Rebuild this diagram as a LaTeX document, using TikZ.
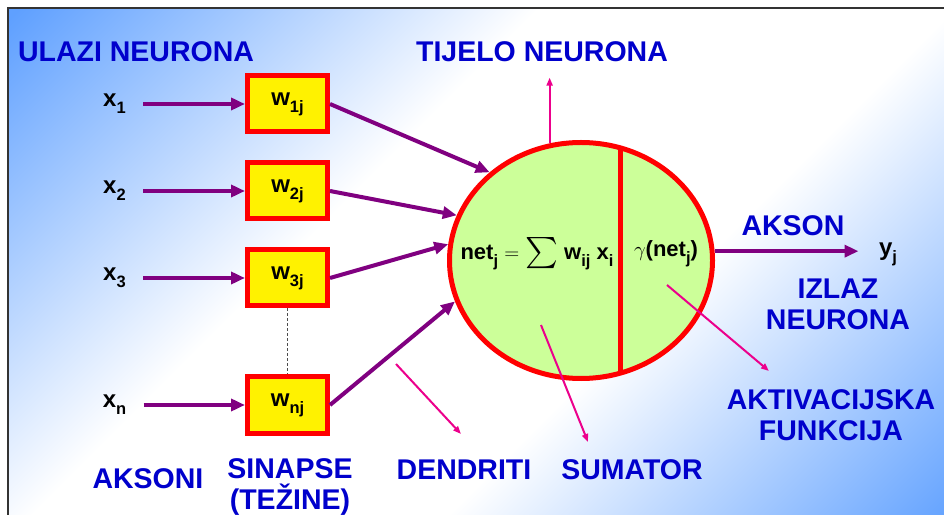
\documentclass[tikz,border=0pt]{standalone}
\usepackage{amsmath}
\usepackage{graphicx}
\usepackage{fontspec}
\setmainfont{Liberation Sans}
\usetikzlibrary{shapes.geometric, positioning, arrows.meta,
calc
}
\definecolor{headblue}{RGB}{0,0,204}
\definecolor{bgblue}{RGB}{95,160,255}
\definecolor{bodygreen}{RGB}{204,255,153}
\definecolor{sigpurple}{RGB}{128,0,128}
\pgfdeclareverticalshading{bgshade}{100bp}{color(0bp)=(bgblue); color(15bp)=(bgblue); color(40bp)=(white); color(60bp)=(white); color(85bp)=(bgblue); color(100bp)=(bgblue)}
\newcommand{\low}[1]{\raisebox{-7pt}{\fontsize{16.5}{17}\selectfont #1}}

\begin{document}
\begin{tikzpicture}[x=1pt, y=1pt, node distance=87pt,
    heading/.style={text=headblue, font=\fontsize{28.5}{31}\selectfont\bfseries, align=center},
    sym/.style={font=\fontsize{24}{26}\selectfont\bfseries},
    weight/.style={sym, draw=red, line width=5pt, fill=yellow, minimum width=80pt, minimum height=56pt, inner sep=0pt},
    body/.style={ellipse, draw=red, line width=5pt, fill=bodygreen, minimum width=263pt, minimum height=236pt, inner sep=0pt},
    formula/.style={font=\fontsize{22}{24}\selectfont\bfseries},
    signal/.style={draw=sigpurple, line width=4pt, -{Triangle[length=14pt,width=12pt]}},
    pointer/.style={magenta, line width=2pt, -{Triangle[length=8pt,width=6pt]}}]
    \useasboundingbox (0,0) rectangle (944,514);
    \fill[shading=bgshade, shading angle=45] (8,-20) rectangle (960,506);
    \draw[line width=2pt, black!80] (8,-20) rectangle (960,506);

    \node[heading] (ulazi) at (136,462) {ULAZI NEURONA};
    \node[heading] (tijelo) at (542,462) {TIJELO NEURONA};
    \node[weight] (w1) at (287.5,410) {w\low{1j}};
    \node[weight, below of=w1] (w2) {w\low{2j}};
    \node[weight, below of=w2] (w3) {w\low{3j}};
    \node[weight, below of=w3, node distance=127pt] (wn) {w\low{nj}};
    \node[sym, left of=w1, node distance=173pt] (x1) {x\low{1}};
    \node[sym, left of=w2, node distance=173pt] (x2) {x\low{2}};
    \node[sym, left of=w3, node distance=173pt] (x3) {x\low{3}};
    \node[sym, left of=wn, node distance=173pt] (xn) {x\low{n}};
    \node[body] (body) at (581,253.5) {};
    \draw[red, line width=5pt] ($(body.center)+(39,112)$) -- ($(body.center)+(39,-112)$);
    \node[formula] (net) at (537,260) {net\low{j} $=$ \raisebox{-1pt}{\scalebox{1.5}{$\sum$}} w\low{ij} x\low{i}};
    \node[formula] (act) at (666,260) {$\gamma$(net\low{j})};
    \node[sym] (yj) at (888,260) {y\low{j}};
    \node[heading] (akson) at (793,288) {AKSON};
    \node[heading] (izlaz) at (838,209.5) {IZLAZ\\NEURONA};
    \node[heading] (aktiv) at (831,99) {AKTIVACIJSKA\\FUNKCIJA};
    \node[heading] (aksoni) at (148,35) {AKSONI};
    \node[heading] (sinapse) at (290,27) {SINAPSE\\(TEŽINE)};
    \node[heading] (dendriti) at (464,44) {DENDRITI};
    \node[heading] (sumator) at (632,44) {SUMATOR};
    \coordinate (dendin) at (396,150);
    \coordinate (dendtip) at (461,80);
    \coordinate (sumin) at (541,189);
    \coordinate (sumtip) at (588,72);
    \coordinate (actin) at (667,229);
    \coordinate (acttip) at (769,143);

    \path (x1) edge[signal, shorten <=14pt] (w1) (x2) edge[signal, shorten <=14pt] (w2)
        (x3) edge[signal, shorten <=14pt] (w3) (xn) edge[signal, shorten <=14pt] (wn);
    \path (w1.east) edge[signal] (body.136) (w2.east) edge[signal] (body.160)
        (w3.east) edge[signal] (body.173) (wn.east) edge[signal] (body.198);
    \draw[signal, shorten >=17pt] (body.4) -- (body.4 -| yj.west);
    \draw[densely dashed, gray!60!black, line width=1pt] (w3) -- (wn);
    \draw[pointer, shorten >=12pt] (body.105) -- (body.105 |- tijelo.south);
    \draw[pointer] (dendin) -- (dendtip);
    \draw[pointer] (sumin) -- (sumtip);
    \draw[pointer] (actin) -- (acttip);
  \end{tikzpicture}
\end{document}
